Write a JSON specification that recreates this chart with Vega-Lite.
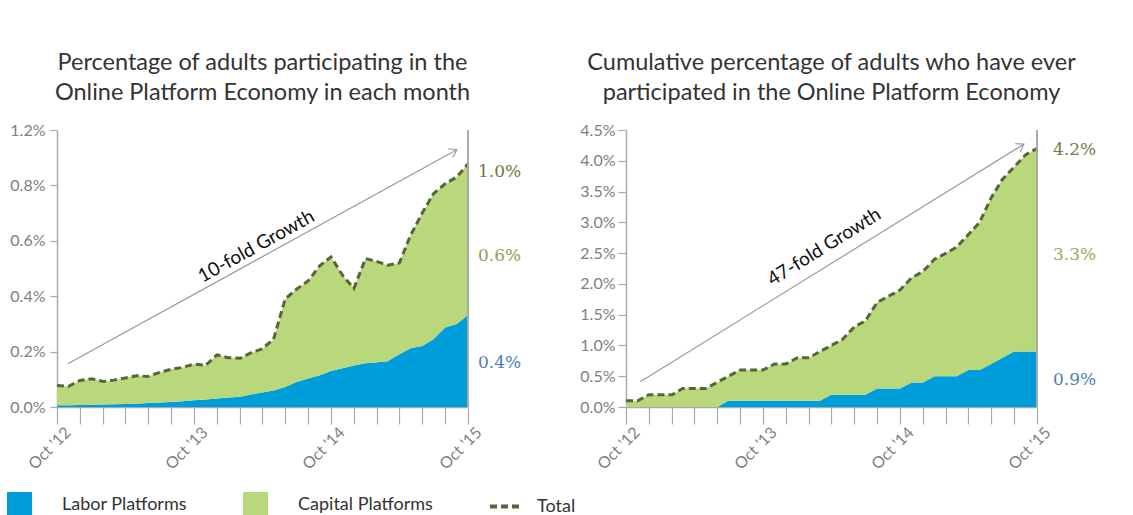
{
  "$schema": "https://vega.github.io/schema/vega-lite/v6.json",
  "background": "white",
  "padding": {"left": 7, "top": 50, "right": 5, "bottom": 0},
  "config": {
    "view": {"stroke": null},
    "font": "Lato",
    "axis": {"domainColor": "#aaaaaa", "domainWidth": 1.5, "tickColor": "#aaaaaa", "tickWidth": 1.2, "labelColor": "#808080", "labelFont": "Lato", "grid": false},
    "title": {"font": "Lato", "fontSize": 23.5, "fontWeight": "normal", "color": "#333333", "anchor": "middle", "lineHeight": 30, "offset": 18},
    "legend": {"labelFont": "Lato", "labelFontSize": 18, "labelColor": "#333333", "padding": 0}
  },
  "datasets": {
    "left": [
      {"date": "2012/10/01", "labor": 0.006, "total": 0.078},
      {"date": "2012/11/01", "labor": 0.006, "total": 0.075},
      {"date": "2012/12/01", "labor": 0.007, "total": 0.096},
      {"date": "2013/01/01", "labor": 0.008, "total": 0.102},
      {"date": "2013/02/01", "labor": 0.009, "total": 0.092},
      {"date": "2013/03/01", "labor": 0.010, "total": 0.097},
      {"date": "2013/04/01", "labor": 0.011, "total": 0.105},
      {"date": "2013/05/01", "labor": 0.012, "total": 0.113},
      {"date": "2013/06/01", "labor": 0.014, "total": 0.110},
      {"date": "2013/07/01", "labor": 0.016, "total": 0.125},
      {"date": "2013/08/01", "labor": 0.018, "total": 0.136},
      {"date": "2013/09/01", "labor": 0.021, "total": 0.143},
      {"date": "2013/10/01", "labor": 0.024, "total": 0.155},
      {"date": "2013/11/01", "labor": 0.027, "total": 0.150},
      {"date": "2013/12/01", "labor": 0.031, "total": 0.188},
      {"date": "2014/01/01", "labor": 0.034, "total": 0.178},
      {"date": "2014/02/01", "labor": 0.037, "total": 0.176},
      {"date": "2014/03/01", "labor": 0.045, "total": 0.195},
      {"date": "2014/04/01", "labor": 0.052, "total": 0.210},
      {"date": "2014/05/01", "labor": 0.060, "total": 0.245},
      {"date": "2014/06/01", "labor": 0.072, "total": 0.390},
      {"date": "2014/07/01", "labor": 0.090, "total": 0.425},
      {"date": "2014/08/01", "labor": 0.103, "total": 0.455},
      {"date": "2014/09/01", "labor": 0.115, "total": 0.510},
      {"date": "2014/10/01", "labor": 0.130, "total": 0.542},
      {"date": "2014/11/01", "labor": 0.140, "total": 0.475},
      {"date": "2014/12/01", "labor": 0.150, "total": 0.428},
      {"date": "2015/01/01", "labor": 0.158, "total": 0.536},
      {"date": "2015/02/01", "labor": 0.162, "total": 0.525},
      {"date": "2015/03/01", "labor": 0.165, "total": 0.512},
      {"date": "2015/04/01", "labor": 0.190, "total": 0.520},
      {"date": "2015/05/01", "labor": 0.212, "total": 0.620},
      {"date": "2015/06/01", "labor": 0.220, "total": 0.700},
      {"date": "2015/07/01", "labor": 0.245, "total": 0.770},
      {"date": "2015/08/01", "labor": 0.287, "total": 0.806},
      {"date": "2015/09/01", "labor": 0.300, "total": 0.830},
      {"date": "2015/10/01", "labor": 0.332, "total": 0.878}
    ],
    "right": [
      {"date": "2012/10/01", "labor": 0, "total": 0.1},
      {"date": "2012/11/01", "labor": 0, "total": 0.1},
      {"date": "2012/12/01", "labor": 0, "total": 0.2},
      {"date": "2013/01/01", "labor": 0, "total": 0.2},
      {"date": "2013/02/01", "labor": 0, "total": 0.2},
      {"date": "2013/03/01", "labor": 0, "total": 0.3},
      {"date": "2013/04/01", "labor": 0, "total": 0.3},
      {"date": "2013/05/01", "labor": 0, "total": 0.3},
      {"date": "2013/06/01", "labor": 0, "total": 0.4},
      {"date": "2013/07/01", "labor": 0.1, "total": 0.5},
      {"date": "2013/08/01", "labor": 0.1, "total": 0.6},
      {"date": "2013/09/01", "labor": 0.1, "total": 0.6},
      {"date": "2013/10/01", "labor": 0.1, "total": 0.6},
      {"date": "2013/11/01", "labor": 0.1, "total": 0.7},
      {"date": "2013/12/01", "labor": 0.1, "total": 0.7},
      {"date": "2014/01/01", "labor": 0.1, "total": 0.8},
      {"date": "2014/02/01", "labor": 0.1, "total": 0.8},
      {"date": "2014/03/01", "labor": 0.1, "total": 0.9},
      {"date": "2014/04/01", "labor": 0.2, "total": 1.0},
      {"date": "2014/05/01", "labor": 0.2, "total": 1.1},
      {"date": "2014/06/01", "labor": 0.2, "total": 1.3},
      {"date": "2014/07/01", "labor": 0.2, "total": 1.4},
      {"date": "2014/08/01", "labor": 0.3, "total": 1.7},
      {"date": "2014/09/01", "labor": 0.3, "total": 1.8},
      {"date": "2014/10/01", "labor": 0.3, "total": 1.9},
      {"date": "2014/11/01", "labor": 0.4, "total": 2.1},
      {"date": "2014/12/01", "labor": 0.4, "total": 2.2},
      {"date": "2015/01/01", "labor": 0.5, "total": 2.4},
      {"date": "2015/02/01", "labor": 0.5, "total": 2.5},
      {"date": "2015/03/01", "labor": 0.5, "total": 2.6},
      {"date": "2015/04/01", "labor": 0.6, "total": 2.8},
      {"date": "2015/05/01", "labor": 0.6, "total": 3.0},
      {"date": "2015/06/01", "labor": 0.7, "total": 3.4},
      {"date": "2015/07/01", "labor": 0.8, "total": 3.7},
      {"date": "2015/08/01", "labor": 0.9, "total": 3.9},
      {"date": "2015/09/01", "labor": 0.9, "total": 4.1},
      {"date": "2015/10/01", "labor": 0.9, "total": 4.2}
    ]
  },
  "spacing": 158,
  "bounds": "flush",
  "resolve": {
    "scale": {"x": "independent", "y": "independent", "fill": "shared", "strokeDash": "shared", "color": "independent"},
    "legend": {"fill": "shared", "strokeDash": "shared"}
  },
  "hconcat": [
    {
      "width": 411,
      "height": 277,
      "title": {"text": ["Percentage of adults participating in the", "Online Platform Economy in each month"]},
      "data": {"name": "left"},
      "encoding": {
        "x": {
          "field": "date", "type": "temporal",
          "scale": {"domain": [{"year": 2012, "month": 10, "date": 1}, {"year": 2015, "month": 10, "date": 1}], "nice": false},
          "axis": {
            "title": null,
            "values": [
              {"year": 2012, "month": 10, "date": 1}, {"year": 2012, "month": 12, "date": 1},
              {"year": 2013, "month": 2, "date": 1}, {"year": 2013, "month": 4, "date": 1},
              {"year": 2013, "month": 6, "date": 1}, {"year": 2013, "month": 8, "date": 1},
              {"year": 2013, "month": 10, "date": 1}, {"year": 2013, "month": 12, "date": 1},
              {"year": 2014, "month": 2, "date": 1}, {"year": 2014, "month": 4, "date": 1},
              {"year": 2014, "month": 6, "date": 1}, {"year": 2014, "month": 8, "date": 1},
              {"year": 2014, "month": 10, "date": 1}, {"year": 2014, "month": 12, "date": 1},
              {"year": 2015, "month": 2, "date": 1}, {"year": 2015, "month": 4, "date": 1},
              {"year": 2015, "month": 6, "date": 1}, {"year": 2015, "month": 8, "date": 1},
              {"year": 2015, "month": 10, "date": 1}
            ],
            "labelExpr": "month(datum.value) == 9 ? timeFormat(datum.value, \"Oct '%y\") : ''",
            "labelAngle": -45, "labelAlign": "right", "labelBaseline": "top",
            "labelOverlap": false, "labelFontSize": 16, "tickSize": 17, "labelPadding": 0, "labelOffset": 5
          }
        }
      },
      "layer": [
        {
          "mark": {"type": "area", "opacity": 1},
          "encoding": {
            "y": {
              "field": "labor", "type": "quantitative", "stack": null,
              "scale": {"domain": [0, 1], "nice": false},
              "axis": {"title": null, "values": [0, 0.2, 0.4, 0.6, 0.8, 1.0], "labelExpr": "datum.value > 0.99 ? '1.2%' : format(datum.value, '.1f') + '%'", "labelFontSize": 16, "tickSize": 7, "labelPadding": 5, "labelOverlap": false}
            },
            "fill": {
              "datum": "Labor Platforms", "type": "nominal",
              "scale": {"domain": ["Labor Platforms", "Capital Platforms"], "range": ["#009ddb", "#b9d77b"]},
              "legend": {"title": null, "orient": "none", "direction": "horizontal", "legendX": -50, "legendY": 362, "symbolType": "square", "symbolSize": 625, "symbolStrokeWidth": 0, "labelOffset": 30, "columnPadding": 56, "labelLimit": 300}
            }
          }
        },
        {
          "mark": {"type": "area", "opacity": 1},
          "encoding": {
            "y": {"field": "total", "type": "quantitative", "stack": null,
              "axis": {"title": null, "values": [0, 0.2, 0.4, 0.6, 0.8, 1.0], "labelExpr": "datum.value > 0.99 ? '1.2%' : format(datum.value, '.1f') + '%'", "labelFontSize": 16, "tickSize": 7, "labelPadding": 5, "labelOverlap": false}},
            "y2": {"field": "labor"},
            "fill": {"datum": "Capital Platforms", "type": "nominal"}
          }
        },
        {
          "mark": {"type": "line", "strokeWidth": 3, "color": "#56663b"},
          "encoding": {
            "y": {"field": "total", "type": "quantitative", "stack": null,
              "axis": {"title": null, "values": [0, 0.2, 0.4, 0.6, 0.8, 1.0], "labelExpr": "datum.value > 0.99 ? '1.2%' : format(datum.value, '.1f') + '%'", "labelFontSize": 16, "tickSize": 7, "labelPadding": 5, "labelOverlap": false}},
            "strokeDash": {
              "datum": "Total", "type": "nominal",
              "scale": {"domain": ["Total"], "range": [[7, 4]]},
              "legend": {"title": null, "orient": "none", "direction": "horizontal", "legendX": 431, "legendY": 358.5, "symbolType": "stroke", "symbolSize": 1024, "symbolStrokeColor": "#56663b", "symbolStrokeWidth": 4, "labelOffset": 13, "labelLimit": 200}
            }
          }
        },
        {
          "mark": {"type": "rule", "color": "#aaaaaa", "strokeWidth": 1.5},
          "encoding": {"x": {"datum": {"year": 2015, "month": 10, "date": 1}, "type": "temporal"}}
        },
        {
          "data": {"values": [{"x": "2012/10/30", "y": 0.156, "x2": "2015/09/01", "y2": 0.929}]},
          "mark": {"type": "rule", "color": "#9a9a9a", "strokeWidth": 1.2},
          "encoding": {
            "x": {"field": "x", "type": "temporal"}, "x2": {"field": "x2"},
            "y": {"field": "y", "type": "quantitative",
              "axis": {"title": null, "values": [0, 0.2, 0.4, 0.6, 0.8, 1.0], "labelExpr": "datum.value > 0.99 ? '1.2%' : format(datum.value, '.1f') + '%'", "labelFontSize": 16, "tickSize": 7, "labelPadding": 5, "labelOverlap": false}},
            "y2": {"field": "y2"}
          }
        },
        {
          "data": {"values": [{"x2": "2015/09/01", "y2": 0.929}]},
          "mark": {"type": "point", "shape": "M-1,-0.7L0,0L-1,0.7", "filled": false, "stroke": "#9a9a9a", "strokeWidth": 1.2, "size": 200, "angle": 331, "opacity": 1},
          "encoding": {"x": {"field": "x2", "type": "temporal"}, "y": {"field": "y2", "type": "quantitative",
            "axis": {"title": null, "values": [0, 0.2, 0.4, 0.6, 0.8, 1.0], "labelExpr": "datum.value > 0.99 ? '1.2%' : format(datum.value, '.1f') + '%'", "labelFontSize": 16, "tickSize": 7, "labelPadding": 5, "labelOverlap": false}}}
        },
        {
          "data": {"values": [{"x": "2014/03/16", "y": 0.58, "label": "10-fold Growth"}]},
          "mark": {"type": "text", "angle": 331, "align": "center", "baseline": "middle", "fontSize": 19, "font": "Lato", "color": "#111111"},
          "encoding": {"x": {"field": "x", "type": "temporal"}, "y": {"field": "y", "type": "quantitative",
            "axis": {"title": null, "values": [0, 0.2, 0.4, 0.6, 0.8, 1.0], "labelExpr": "datum.value > 0.99 ? '1.2%' : format(datum.value, '.1f') + '%'", "labelFontSize": 16, "tickSize": 7, "labelPadding": 5, "labelOverlap": false}}, "text": {"field": "label"}}
        },
        {
          "data": {"values": [
            {"x": "2015/10/01", "y": 0.85, "label": "1.0%", "series": "Total"},
            {"x": "2015/10/01", "y": 0.544, "label": "0.6%", "series": "Capital"},
            {"x": "2015/10/01", "y": 0.159, "label": "0.4%", "series": "Labor"}
          ]},
          "mark": {"type": "text", "align": "left", "baseline": "middle", "dx": 10, "fontSize": 17, "font": "DejaVu Serif"},
          "encoding": {
            "x": {"field": "x", "type": "temporal"},
            "y": {"field": "y", "type": "quantitative",
              "axis": {"title": null, "values": [0, 0.2, 0.4, 0.6, 0.8, 1.0], "labelExpr": "datum.value > 0.99 ? '1.2%' : format(datum.value, '.1f') + '%'", "labelFontSize": 16, "tickSize": 7, "labelPadding": 5, "labelOverlap": false}},
            "text": {"field": "label"},
            "color": {"field": "series", "type": "nominal", "scale": {"domain": ["Total", "Capital", "Labor"], "range": ["#6b7b3e", "#8ea04c", "#4a7fb5"]}, "legend": null}
          }
        }
      ]
    },
    {
      "width": 411,
      "height": 277,
      "title": {"text": ["Cumulative percentage of adults who have ever", "participated in the Online Platform Economy"]},
      "data": {"name": "right"},
      "encoding": {
        "x": {
          "field": "date", "type": "temporal",
          "scale": {"domain": [{"year": 2012, "month": 10, "date": 1}, {"year": 2015, "month": 10, "date": 1}], "nice": false},
          "axis": {
            "title": null,
            "values": [
              {"year": 2012, "month": 10, "date": 1}, {"year": 2012, "month": 12, "date": 1},
              {"year": 2013, "month": 2, "date": 1}, {"year": 2013, "month": 4, "date": 1},
              {"year": 2013, "month": 6, "date": 1}, {"year": 2013, "month": 8, "date": 1},
              {"year": 2013, "month": 10, "date": 1}, {"year": 2013, "month": 12, "date": 1},
              {"year": 2014, "month": 2, "date": 1}, {"year": 2014, "month": 4, "date": 1},
              {"year": 2014, "month": 6, "date": 1}, {"year": 2014, "month": 8, "date": 1},
              {"year": 2014, "month": 10, "date": 1}, {"year": 2014, "month": 12, "date": 1},
              {"year": 2015, "month": 2, "date": 1}, {"year": 2015, "month": 4, "date": 1},
              {"year": 2015, "month": 6, "date": 1}, {"year": 2015, "month": 8, "date": 1},
              {"year": 2015, "month": 10, "date": 1}
            ],
            "labelExpr": "month(datum.value) == 9 ? timeFormat(datum.value, \"Oct '%y\") : ''",
            "labelAngle": -45, "labelAlign": "right", "labelBaseline": "top",
            "labelOverlap": false, "labelFontSize": 16, "tickSize": 17, "labelPadding": 0, "labelOffset": 5
          }
        }
      },
      "layer": [
        {
          "mark": {"type": "area", "opacity": 1},
          "encoding": {
            "y": {
              "field": "labor", "type": "quantitative", "stack": null,
              "scale": {"domain": [0, 4.5], "nice": false},
              "axis": {"title": null, "values": [0, 0.5, 1, 1.5, 2, 2.5, 3, 3.5, 4, 4.5], "labelExpr": "format(datum.value, '.1f') + '%'", "labelFontSize": 16, "tickSize": 8, "labelPadding": 3, "labelOverlap": false}
            },
            "fill": {"datum": "Labor Platforms", "type": "nominal"}
          }
        },
        {
          "mark": {"type": "area", "opacity": 1},
          "encoding": {
            "y": {"field": "total", "type": "quantitative", "stack": null,
              "axis": {"title": null, "values": [0, 0.5, 1, 1.5, 2, 2.5, 3, 3.5, 4, 4.5], "labelExpr": "format(datum.value, '.1f') + '%'", "labelFontSize": 16, "tickSize": 8, "labelPadding": 3, "labelOverlap": false}},
            "y2": {"field": "labor"},
            "fill": {"datum": "Capital Platforms", "type": "nominal"}
          }
        },
        {
          "mark": {"type": "line", "strokeWidth": 3, "color": "#56663b"},
          "encoding": {
            "y": {"field": "total", "type": "quantitative", "stack": null,
              "axis": {"title": null, "values": [0, 0.5, 1, 1.5, 2, 2.5, 3, 3.5, 4, 4.5], "labelExpr": "format(datum.value, '.1f') + '%'", "labelFontSize": 16, "tickSize": 8, "labelPadding": 3, "labelOverlap": false}},
            "strokeDash": {"datum": "Total", "type": "nominal"}
          }
        },
        {
          "mark": {"type": "rule", "color": "#aaaaaa", "strokeWidth": 1.5},
          "encoding": {"x": {"datum": {"year": 2015, "month": 10, "date": 1}, "type": "temporal"}}
        },
        {
          "data": {"values": [{"x": "2012/11/08", "y": 0.41, "x2": "2015/08/27", "y2": 4.27}]},
          "mark": {"type": "rule", "color": "#9a9a9a", "strokeWidth": 1.2},
          "encoding": {
            "x": {"field": "x", "type": "temporal"}, "x2": {"field": "x2"},
            "y": {"field": "y", "type": "quantitative",
              "axis": {"title": null, "values": [0, 0.5, 1, 1.5, 2, 2.5, 3, 3.5, 4, 4.5], "labelExpr": "format(datum.value, '.1f') + '%'", "labelFontSize": 16, "tickSize": 8, "labelPadding": 3, "labelOverlap": false}},
            "y2": {"field": "y2"}
          }
        },
        {
          "data": {"values": [{"x2": "2015/08/27", "y2": 4.27}]},
          "mark": {"type": "point", "shape": "M-1,-0.7L0,0L-1,0.7", "filled": false, "stroke": "#9a9a9a", "strokeWidth": 1.2, "size": 200, "angle": 328, "opacity": 1},
          "encoding": {"x": {"field": "x2", "type": "temporal"}, "y": {"field": "y2", "type": "quantitative",
            "axis": {"title": null, "values": [0, 0.5, 1, 1.5, 2, 2.5, 3, 3.5, 4, 4.5], "labelExpr": "format(datum.value, '.1f') + '%'", "labelFontSize": 16, "tickSize": 8, "labelPadding": 3, "labelOverlap": false}}}
        },
        {
          "data": {"values": [{"x": "2014/03/13", "y": 2.6, "label": "47-fold Growth"}]},
          "mark": {"type": "text", "angle": 328, "align": "center", "baseline": "middle", "fontSize": 19, "font": "Lato", "color": "#111111"},
          "encoding": {"x": {"field": "x", "type": "temporal"}, "y": {"field": "y", "type": "quantitative",
            "axis": {"title": null, "values": [0, 0.5, 1, 1.5, 2, 2.5, 3, 3.5, 4, 4.5], "labelExpr": "format(datum.value, '.1f') + '%'", "labelFontSize": 16, "tickSize": 8, "labelPadding": 3, "labelOverlap": false}}, "text": {"field": "label"}}
        },
        {
          "data": {"values": [
            {"x": "2015/10/01", "y": 4.17, "label": "4.2%", "series": "Total"},
            {"x": "2015/10/01", "y": 2.47, "label": "3.3%", "series": "Capital"},
            {"x": "2015/10/01", "y": 0.44, "label": "0.9%", "series": "Labor"}
          ]},
          "mark": {"type": "text", "align": "left", "baseline": "middle", "dx": 16, "fontSize": 17, "font": "DejaVu Serif"},
          "encoding": {
            "x": {"field": "x", "type": "temporal"},
            "y": {"field": "y", "type": "quantitative",
              "axis": {"title": null, "values": [0, 0.5, 1, 1.5, 2, 2.5, 3, 3.5, 4, 4.5], "labelExpr": "format(datum.value, '.1f') + '%'", "labelFontSize": 16, "tickSize": 8, "labelPadding": 3, "labelOverlap": false}},
            "text": {"field": "label"},
            "color": {"field": "series", "type": "nominal", "scale": {"domain": ["Total", "Capital", "Labor"], "range": ["#6f7f40", "#98aa58", "#4a80b8"]}, "legend": null}
          }
        }
      ]
    }
  ]
}
